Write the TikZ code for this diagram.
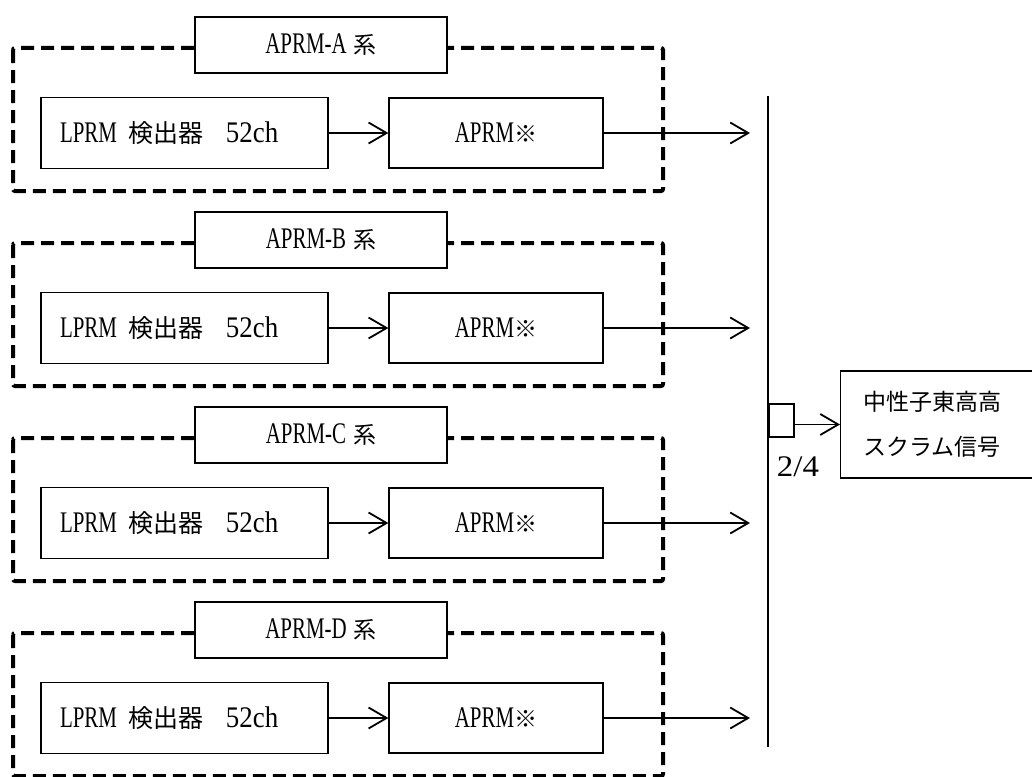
\documentclass[tikz,border=0pt]{standalone}
\usepackage{fontspec}
\setmainfont{Liberation Serif}[Scale=1.3,FakeStretch=0.7]
\newfontfamily\latw{Liberation Serif}[Scale=1.3,FakeStretch=0.9]
\newfontfamily\latx{Liberation Serif}[Scale=1.3,FakeStretch=1.1]
\newfontfamily\cjk{Noto Sans CJK JP}
\usetikzlibrary{arrows.meta}
\begin{document}
\begin{tikzpicture}[x=1pt,y=-1pt,
  box/.style={draw,line width=1.3pt,fill=white,inner sep=0pt,font=\fontsize{23}{28}\selectfont},
  grp/.style={draw,line width=4pt,dash pattern=on 13pt off 7pt,rounded corners=2pt},
  arr/.style={line width=1.8pt,-{Straight Barb[length=18pt,width=21pt,line width=1.8pt]}}
]
\useasboundingbox (0,0) rectangle (1032,776);
\foreach \n [count=\i from 0] in {A,B,C,D}{
  \pgfmathsetmacro{\dy}{195*\i}
  \path[grp] (13,{48+\dy}) rectangle (663,{191+\dy});
  \node[box,minimum width=252pt,minimum height=56pt] (t\n) at (321,{45+\dy}) {APRM-\n\hspace{7pt}{\cjk 系}};
  \node[box,minimum height=71pt,text width=249pt,inner xsep=19pt,align=left] (l\n) at (184.5,{133+\dy}) {LPRM\hspace{12pt}{\cjk\fontsize{25}{28}\selectfont 検出器}\hspace{22pt}{\latw 52ch}};
  \node[box,minimum width=214pt,minimum height=70pt] (a\n) at (496,{133+\dy}) {APRM{\cjk ※}};
  \coordinate (o\n) at (750,{133+\dy});
  \draw[arr] (l\n) -- (a\n);
  \draw[arr] (a\n) -- (o\n);
}
\coordinate (bt) at (768,96);
\coordinate (bb) at (768,747);
\draw[line width=2pt] (bt) -- (bb);
\node[draw,line width=1.6pt,minimum width=25pt,minimum height=33pt,inner sep=0pt,anchor=west] (vote) at (768,420.5) {};
\node[box,anchor=west,minimum height=107pt,text width=159pt,inner xsep=23pt,align=left,font=\cjk\fontsize{23}{45}\selectfont] (out) at (840,424.5) {中性子東高高\\スクラム信号};
\draw[arr] (vote.east |- out.west) -- (out.west);
\node[font=\latx\fontsize{23}{28}\selectfont,inner sep=0pt] (lab) at (798,467) {2/4};
\end{tikzpicture}
\end{document}
